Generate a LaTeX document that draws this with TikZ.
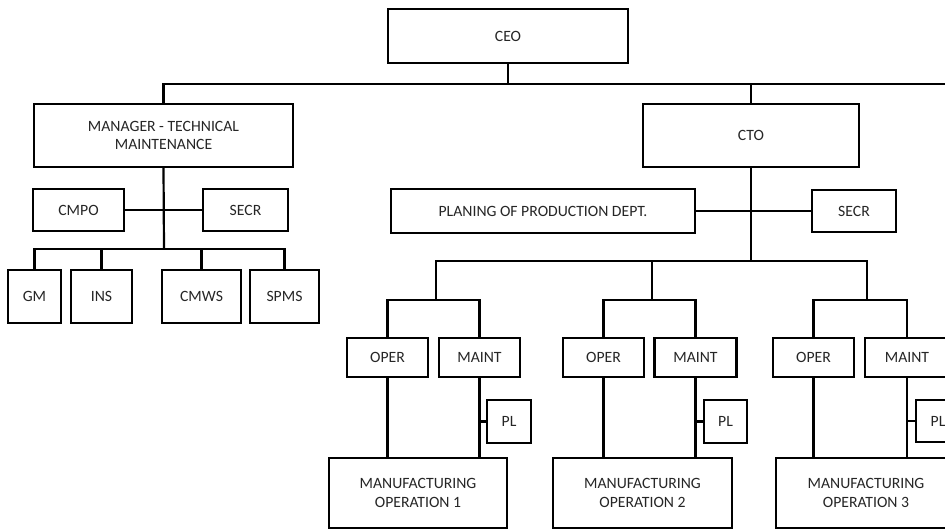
\documentclass[tikz,border=0pt]{standalone}
\usepackage{fontspec}
\setmainfont{Carlito}
\begin{document}
\begin{tikzpicture}[x=1pt,y=-1pt,
  box/.style={draw=black,line width=2.2pt,fill=white,inner sep=0pt,align=center,
    font=\fontsize{15.7}{18.5}\selectfont,text=black!85},
  conn/.style={draw=black,line width=2.2pt}]
\useasboundingbox (0,0) rectangle (945,530);
\clip (0,0) rectangle (945,530);
% nodes
\node[box,minimum width=240,minimum height=54] (ceo) at (508,36) {CEO};
\node[box,minimum width=259,minimum height=63] (mgr) at (163.5,135.5) {MANAGER - TECHNICAL\\MAINTENANCE};
\node[box,minimum width=216,minimum height=63] (cto) at (751,135.5) {CTO};
\node[box,minimum width=91,minimum height=42] (cmpo) at (78.5,210) {CMPO};
\node[box,minimum width=85,minimum height=42] (secra) at (245.5,210) {SECR};
\node[box,minimum width=53,minimum height=53] (gm) at (34.5,296.5) {GM};
\node[box,minimum width=61,minimum height=53] (ins) at (101.5,296.5) {INS};
\node[box,minimum width=79,minimum height=53] (cmws) at (201.5,296.5) {CMWS};
\node[box,minimum width=69,minimum height=53] (spms) at (284.5,296.5) {SPMS};
\node[box,minimum width=304,minimum height=44] (plan) at (543,211) {PLANING OF PRODUCTION DEPT.};
\node[box,minimum width=84,minimum height=42] (secrb) at (854,211) {SECR};
% group 1
\node[box,minimum width=81,minimum height=39] (oper1) at (387.5,357.5) {OPER};
\node[box,minimum width=81,minimum height=39] (maint1) at (479.5,357.5) {MAINT};
\node[box,minimum width=44,minimum height=43] (pl1) at (509,421.5) {PL};
\node[box,minimum width=178,minimum height=70] (mfg1) at (418,493) {MANUFACTURING\\OPERATION 1};
% group 2
\node[box,minimum width=81,minimum height=39] (oper2) at (603.5,357.5) {OPER};
\node[box,minimum width=82,minimum height=39] (maint2) at (695.5,357.5) {MAINT};
\node[box,minimum width=43,minimum height=43] (pl2) at (725.5,421.5) {PL};
\node[box,minimum width=179,minimum height=70] (mfg2) at (642.5,493) {MANUFACTURING\\OPERATION 2};
% group 3
\node[box,minimum width=81,minimum height=39] (oper3) at (813.5,357.5) {OPER};
\node[box,minimum width=84,minimum height=39] (maint3) at (907,357.5) {MAINT};
\node[box,minimum width=44,minimum height=42] (pl3) at (938,421) {PL};
\node[box,minimum width=180,minimum height=70] (mfg3) at (866,493) {MANUFACTURING\\OPERATION 3};
% coordinates
\coordinate (topR) at (945,84);
\coordinate (busA) at (164,249);
\coordinate (busB) at (751,261);
% connectors
\draw[conn] (ceo.south) -- (508,84);
\draw[conn] (mgr.north) |- (topR);
\draw[conn] (cto.north) -- (751,84);
\draw[conn] (mgr.south) -- (busA);
\draw[conn] (cmpo.east) -- (secra.west);
\draw[conn] (gm.north) |- (busA) -| (spms.north);
\draw[conn] (ins.north) -- (101.5,249);
\draw[conn] (cmws.north) -- (201.5,249);
\draw[conn] (cto.south) -- (busB);
\draw[conn] (plan.east) -- (secrb.west);
\draw[conn] (436,300) |- (busB) -| (867,300);
\draw[conn] (652,261) -- (652,300);
\draw[conn] (oper1.north) |- (436,300) -| (maint1.north);
\draw[conn] (oper2.north) |- (652,300) -| (maint2.north);
\draw[conn] (oper3.north) |- (867,300) -| (maint3.north);
\draw[conn] (oper1.south) -- (oper1.south |- mfg1.north);
\draw[conn] (maint1.south) -- (maint1.south |- mfg1.north);
\draw[conn] (maint1.south |- pl1.west) -- (pl1.west);
\draw[conn] (oper2.south) -- (oper2.south |- mfg2.north);
\draw[conn] (maint2.south) -- (maint2.south |- mfg2.north);
\draw[conn] (maint2.south |- pl2.west) -- (pl2.west);
\draw[conn] (oper3.south) -- (oper3.south |- mfg3.north);
\draw[conn] (maint3.south) -- (maint3.south |- mfg3.north);
\draw[conn] (maint3.south |- pl3.west) -- (pl3.west);
\end{tikzpicture}
\end{document}
